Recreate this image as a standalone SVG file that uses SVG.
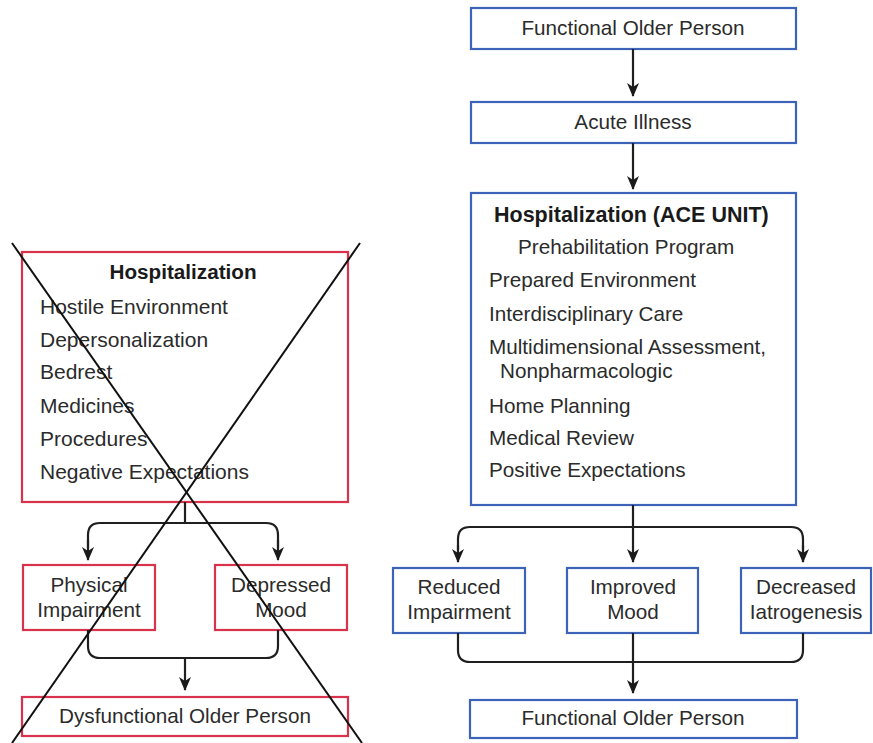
<svg xmlns="http://www.w3.org/2000/svg" width="873" height="743" viewBox="0 0 873 743">
<defs>
<marker id="ah" markerUnits="userSpaceOnUse" markerWidth="14" markerHeight="14" viewBox="0 0 14 14" refX="13" refY="7" orient="auto">
<path d="M0,1 L14,7 L0,13 L4,7 Z" fill="#1a1a1a"/>
</marker>
<style>
.red{fill:#fff;stroke:#d8324c;stroke-width:2.2}
.blue{fill:#fff;stroke:#3c63b8;stroke-width:2.2}
text{font-family:"Liberation Sans",Arial,sans-serif;font-size:20.7px;fill:#2b2b2b}
.b{font-weight:bold;fill:#1a1a1a}
.c{text-anchor:middle}
.l{font-size:21px}
.con{fill:none;stroke:#1f1f1f;stroke-width:2.2}
.x{stroke:#111;stroke-width:2}
</style>
</defs>
<rect width="873" height="743" fill="#fff"/>

<g id="left-hosp">
<rect class="red" x="22" y="252" width="326" height="250"/>
<text class="b c" x="183" y="279">Hospitalization</text>
<text class="l" x="40" y="314">Hostile Environment</text>
<text class="l" x="40" y="347">Depersonalization</text>
<text class="l" x="40" y="379">Bedrest</text>
<text class="l" x="40" y="413">Medicines</text>
<text class="l" x="40" y="446">Procedures</text>
<text class="l" x="40" y="479">Negative Expectations</text>
</g>
<g id="left-physical">
<rect class="red" x="23" y="565" width="132" height="65"/>
<text class="c" x="89" y="592">Physical</text>
<text class="c" x="89" y="617">Impairment</text>
</g>
<g id="left-depressed">
<rect class="red" x="215" y="565" width="132" height="65"/>
<text class="c" x="281" y="592">Depressed</text>
<text class="c" x="281" y="617">Mood</text>
</g>
<g id="left-dysfunctional">
<rect class="red" x="22" y="697" width="326" height="39"/>
<text class="c" x="185" y="723">Dysfunctional Older Person</text>
</g>

<g id="right-functional-top">
<rect class="blue" x="471" y="8" width="325" height="41"/>
<text class="c" x="633" y="35">Functional Older Person</text>
</g>
<g id="right-acute">
<rect class="blue" x="471" y="102" width="325" height="41"/>
<text class="c" x="633" y="129">Acute Illness</text>
</g>
<g id="right-ace">
<rect class="blue" x="471" y="193" width="325" height="312"/>
<text class="b" x="494" y="222" style="font-size:21.5px">Hospitalization (ACE UNIT)</text>
<text x="518" y="254">Prehabilitation Program</text>
<text x="489" y="287">Prepared Environment</text>
<text x="489" y="321">Interdisciplinary Care</text>
<text x="489" y="354">Multidimensional Assessment,</text>
<text x="500" y="378">Nonpharmacologic</text>
<text x="489" y="413">Home Planning</text>
<text x="489" y="445">Medical Review</text>
<text x="489" y="477">Positive Expectations</text>
</g>
<g id="right-reduced">
<rect class="blue" x="393" y="568" width="132" height="65"/>
<text class="c" x="459" y="594">Reduced</text>
<text class="c" x="459" y="619">Impairment</text>
</g>
<g id="right-improved">
<rect class="blue" x="567" y="568" width="131" height="65"/>
<text class="c" x="633" y="594">Improved</text>
<text class="c" x="633" y="619">Mood</text>
</g>
<g id="right-decreased">
<rect class="blue" x="741" y="568" width="130" height="65"/>
<text class="c" x="806" y="594">Decreased</text>
<text class="c" x="806" y="619">Iatrogenesis</text>
</g>
<g id="right-functional-bottom">
<rect class="blue" x="470" y="700" width="327" height="38"/>
<text class="c" x="633" y="725">Functional Older Person</text>
</g>

<g id="connectors">
<line class="con" x1="633" y1="49" x2="633" y2="96" marker-end="url(#ah)"/>
<line class="con" x1="633" y1="143" x2="633" y2="189" marker-end="url(#ah)"/>
<line class="con" x1="633" y1="505" x2="633" y2="562" marker-end="url(#ah)"/>
<path class="con" d="M458,550 L458,539 Q458,527 470,527 L791,527 Q803,527 803,539 L803,550"/>
<line class="con" x1="458" y1="545" x2="458" y2="562" marker-end="url(#ah)"/>
<line class="con" x1="803" y1="545" x2="803" y2="562" marker-end="url(#ah)"/>
<path class="con" d="M458,633 L458,650 Q458,662 470,662 L791,662 Q803,662 803,650 L803,633"/>
<line class="con" x1="633" y1="633" x2="633" y2="693" marker-end="url(#ah)"/>

<line class="con" x1="185" y1="502" x2="185" y2="523"/>
<path class="con" d="M88,548 L88,535 Q88,523 100,523 L266,523 Q278,523 278,535 L278,548"/>
<line class="con" x1="88" y1="540" x2="88" y2="560" marker-end="url(#ah)"/>
<line class="con" x1="278" y1="540" x2="278" y2="560" marker-end="url(#ah)"/>
<path class="con" d="M88,630 L88,646 Q88,658 100,658 L266,658 Q278,658 278,646 L278,630"/>
<line class="con" x1="185" y1="658" x2="185" y2="690" marker-end="url(#ah)"/>
</g>

<g id="cross">
<line class="x" x1="12" y1="243" x2="362" y2="743"/>
<line class="x" x1="360" y1="243" x2="12" y2="743"/>
</g>
</svg>
